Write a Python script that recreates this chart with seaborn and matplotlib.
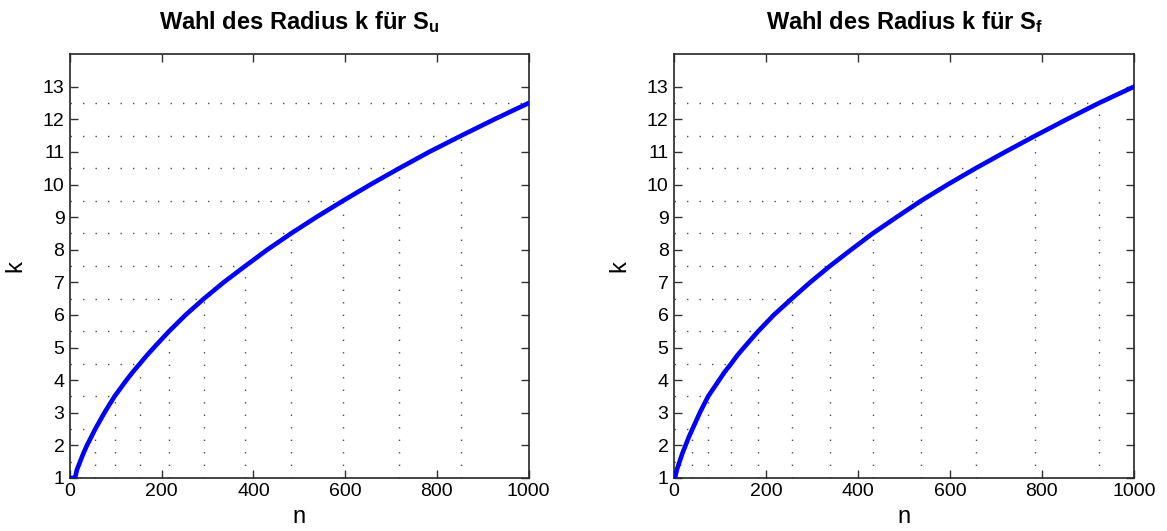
import numpy as np
import pandas as pd
import matplotlib
matplotlib.use("Agg")
import matplotlib.pyplot as plt
import seaborn as sns

# Radius k as a function of n for the two sets S_u and S_f
half_levels = [1.5, 2.5, 3.5, 4.5, 5.5, 6.5, 7.5, 8.5, 9.5, 10.5, 11.5, 12.5]

# n at which k reaches each half level
n_half_u = [22, 55, 97, 152, 216, 292, 382, 482, 595, 718, 853, 1000]
n_half_f = [12, 40, 74, 124, 183, 256, 339, 432, 537, 656, 786, 924]

# curve samples (n, k)
n_u = [0, 11, 15, 22, 29, 37, 46, 55, 65, 75, 86, 97, 110, 123, 137, 152,
       167, 183, 216, 252, 292, 335, 382, 430, 482, 537, 595, 655, 718,
       783, 853, 925, 1000]
k_u = [1, 1, 1.25, 1.5, 1.75, 2, 2.25, 2.5, 2.75, 3, 3.25, 3.5, 3.75, 4,
       4.25, 4.5, 4.75, 5, 5.5, 6, 6.5, 7, 7.5, 8, 8.5, 9, 9.5, 10, 10.5,
       11, 11.5, 12, 12.5]

n_f = [0, 2, 6, 12, 18, 25, 32, 40, 48, 56, 65, 74, 86, 98, 110, 124, 137,
       152, 183, 217, 256, 296, 339, 385, 432, 484, 537, 595, 656, 720, 786,
       854, 924, 1000]
k_f = [1, 1, 1.25, 1.5, 1.75, 2, 2.25, 2.5, 2.75, 3, 3.25, 3.5, 3.75, 4,
       4.25, 4.5, 4.75, 5, 5.5, 6, 6.5, 7, 7.5, 8, 8.5, 9, 9.5, 10, 10.5,
       11, 11.5, 12, 12.5, 13]

x_ticks = [0, 200, 400, 600, 800, 1000]
y_ticks = list(range(1, 14))

titles = [r"Wahl des Radius k für $\mathbf{S_u}$",
          r"Wahl des Radius k für $\mathbf{S_f}$"]

sns.set_style("ticks")
plt.rcParams["font.family"] = ["Liberation Sans", "DejaVu Sans"]
plt.rcParams["mathtext.fontset"] = "custom"
plt.rcParams["mathtext.rm"] = "Liberation Sans"
plt.rcParams["mathtext.bf"] = "Liberation Sans:bold"
plt.rcParams["text.color"] = "black"
plt.rcParams["axes.labelcolor"] = "black"
plt.rcParams["xtick.color"] = "black"
plt.rcParams["ytick.color"] = "black"

fig = plt.figure(figsize=(11.67, 5.31), dpi=100)
axes = [fig.add_axes([0.060, 0.100, 0.393, 0.798]),
        fig.add_axes([0.5776, 0.100, 0.394, 0.798])]

datasets = [(n_u, k_u, n_half_u), (n_f, k_f, n_half_f)]

for ax, (n_vals, k_vals, n_half), title in zip(axes, datasets, titles):
    df = pd.DataFrame({"n": n_vals, "k": k_vals})
    dot = dict(color="0.3", linewidth=1.0, linestyle=(0, (1, 8)), zorder=1)
    ax.hlines(half_levels, 0, n_half, **dot)
    ax.vlines(n_half, 1, half_levels, **dot)
    sns.lineplot(data=df, x="n", y="k", ax=ax, color="#0000ff",
                 linewidth=3.3, sort=False, zorder=3,
                 solid_joinstyle="round", solid_capstyle="round")
    ax.set_xlim(0, 1000)
    ax.set_ylim(1, 14)
    ax.set_xticks(x_ticks)
    ax.set_yticks(y_ticks)
    ax.tick_params(direction="in", length=6, width=1, top=True, right=True,
                   labelsize=14, pad=4)
    ax.tick_params(colors="0.2", labelcolor="black")
    for sp in ax.spines.values():
        sp.set_visible(True)
        sp.set_linewidth(1.2)
        sp.set_color("0.15")
    ax.set_xlabel("n", fontsize=17, labelpad=4)
    ax.set_ylabel("k", fontsize=17, labelpad=12)
    ax.set_title(title, fontsize=17, fontweight="bold", pad=18)

fig.savefig("out.png", dpi=100)
